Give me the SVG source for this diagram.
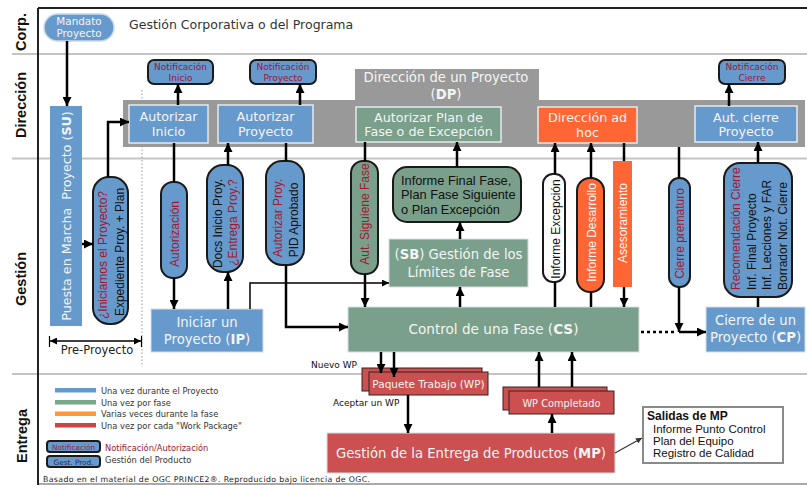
<svg xmlns="http://www.w3.org/2000/svg" width="807" height="485" viewBox="0 0 807 485">
<defs>
  <marker id="ah" markerWidth="9" markerHeight="9" refX="9" refY="4.5" orient="auto" markerUnits="userSpaceOnUse">
    <path d="M0,0 L9,4.5 L0,9 z" fill="#000"/>
  </marker>
  <marker id="ahs" markerWidth="7" markerHeight="7" refX="7" refY="3.5" orient="auto-start-reverse" markerUnits="userSpaceOnUse">
    <path d="M0,0 L7,3.5 L0,7 z" fill="#000"/>
  </marker>
  <marker id="ahx" markerWidth="6" markerHeight="6" refX="6" refY="3" orient="auto" markerUnits="userSpaceOnUse">
    <path d="M0,0 L6,3 L0,6 z" fill="#333"/>
  </marker>
</defs>
<style>
  .lane{stroke:#c4c4c4;stroke-width:2;fill:none}
  .lanelbl{font-family:"Liberation Sans",Arial,sans-serif;font-weight:bold;font-size:14.5px;fill:#111;text-anchor:middle}
  .blue{fill:#6699cc}
  .green{fill:#7a9f8a}
  .orange{fill:#ff6633}
  .red{fill:#cc5050}
  .box{stroke:#e6e9ec;stroke-width:1.5}
  .soft{stroke:#d6dee6;stroke-width:1}
  .pill{stroke:#1a1a1a;stroke-width:2}
  .wp{stroke:#3a2020;stroke-width:1}
  .bt{font-family:"DejaVu Sans",Verdana,sans-serif;font-size:13.2px;fill:#f4f4f4;text-anchor:middle}
  .at{font-size:12.7px}
  .b{font-weight:bold}
  .vt{font-family:"Liberation Sans",Arial,sans-serif;font-size:12px;text-anchor:middle}
  .vs{text-anchor:start}
  .rd{fill:#a01830}
  .bk{fill:#111}
  .wt{fill:#fafafa}
  .nt{font-family:"DejaVu Sans",Verdana,sans-serif;font-size:9px;fill:#9a1838;text-anchor:middle}
  .conn{stroke:#000;stroke-width:2.5;fill:none}
  .thin{stroke:#000;stroke-width:1.5;fill:none}
  .sm{font-family:"DejaVu Sans",Verdana,sans-serif;font-size:9px;fill:#111}
  .lg{font-family:"DejaVu Sans",Verdana,sans-serif;font-size:8.3px;fill:#333}
  .out{font-family:"Liberation Sans",Arial,sans-serif;font-size:11.5px;fill:#111}
</style>

<!-- swimlane frame -->
<g id="lanes">
  <path class="lane" d="M12,54 H807 M12,158.5 H807 M12,374 H807"/>
  <path d="M38,484 H807" stroke="#8c8c8c" stroke-width="1.5"/>
  <path d="M38,8 H807 M38,8 V485" stroke="#222" stroke-width="2" fill="none"/>
  <path d="M142,90 V367" stroke="#9a9a9a" stroke-width="1" stroke-dasharray="1.5,2" fill="none"/>
  <text class="lanelbl" transform="translate(26,32) rotate(-90)">Corp.</text>
  <text class="lanelbl" transform="translate(26,105) rotate(-90)">Dirección</text>
  <text class="lanelbl" transform="translate(26,279) rotate(-90)">Gestión</text>
  <text class="lanelbl" transform="translate(27,436) rotate(-90)">Entrega</text>
</g>

<!-- corporate level -->
<g id="mandato">
  <rect x="44" y="14" width="70" height="27" rx="13.5" class="blue" stroke="#c9d9ea" stroke-width="1.5"/>
  <text class="bt" style="font-size:10.4px" x="79" y="25">Mandato</text>
  <text class="bt" style="font-size:10.4px" x="79" y="37">Proyecto</text>
</g>
<g id="corp-title">
  <text x="129" y="29" font-family="DejaVu Sans, Verdana, sans-serif" font-size="12.5" fill="#333">Gestión Corporativa o del Programa</text>
</g>

<!-- directing a project -->
<g id="dp">
  <path d="M123,100 H355 V69 H539 V100 H805 V147 H123 Z" fill="#999"/>
  <text class="bt" x="446" y="81.5">Dirección de un Proyecto</text>
  <text class="bt" x="446" y="99">(<tspan class="b">DP</tspan>)</text>
</g>
<g id="aut-inicio">
  <rect x="129" y="105" width="79" height="38" class="blue box"/>
  <text class="bt at" x="168.5" y="121">Autorizar</text>
  <text class="bt at" x="168.5" y="135.5">Inicio</text>
</g>
<g id="aut-proyecto">
  <rect x="218" y="105" width="95" height="38" class="blue box"/>
  <text class="bt at" x="265.5" y="121">Autorizar</text>
  <text class="bt at" x="265.5" y="135.5">Proyecto</text>
</g>
<g id="aut-plan">
  <rect x="356" y="107" width="145" height="35" class="green box"/>
  <text class="bt at" x="428.5" y="121.5">Autorizar Plan de</text>
  <text class="bt at" x="428.5" y="136">Fase o de Excepción</text>
</g>
<g id="adhoc">
  <rect x="538" y="107" width="99" height="36" class="orange box"/>
  <text class="bt at" x="587.5" y="122">Dirección ad</text>
  <text class="bt at" x="587.5" y="136.5">hoc</text>
</g>
<g id="aut-cierre">
  <rect x="695" y="106" width="102" height="36" class="blue box"/>
  <text class="bt at" x="746" y="121.5">Aut. cierre</text>
  <text class="bt at" x="746" y="136">Proyecto</text>
</g>
<g id="not-inicio">
  <rect x="148" y="60" width="65" height="24" rx="6" class="blue pill"/>
  <text class="nt" x="180.5" y="70">Notificación</text>
  <text class="nt" x="180.5" y="81">Inicio</text>
</g>
<g id="not-proyecto">
  <rect x="250" y="60" width="66" height="24" rx="6" class="blue pill"/>
  <text class="nt" x="283" y="70">Notificación</text>
  <text class="nt" x="283" y="81">Proyecto</text>
</g>
<g id="not-cierre">
  <rect x="719" y="60" width="66" height="24" rx="6" class="blue pill"/>
  <text class="nt" x="752" y="70">Notificación</text>
  <text class="nt" x="752" y="81">Cierre</text>
</g>

<!-- managing level -->
<g id="su">
  <rect x="50" y="106" width="32" height="220" class="blue"/>
  <text class="bt at" transform="translate(71,216) rotate(-90)">Puesta en Marcha&#160; Proyecto (<tspan class="b">SU</tspan>)</text>
</g>
<g id="iniciamos">
  <rect x="93" y="177" width="35" height="147" rx="16" class="blue pill"/>
  <text class="vt rd" transform="translate(107,255) rotate(-90)">¿Iniciamos el Proyecto?</text>
  <text class="vt bk" transform="translate(124,252) rotate(-90)">Expediente Proy. + Plan</text>
</g>
<g id="pre-proyecto">
  <path class="thin" d="M50,341 H141" marker-start="url(#ahs)" marker-end="url(#ahs)"/>
  <path d="M49.5,336 V347 M141.5,336 V347" stroke="#000" stroke-width="1.2"/>
  <text x="97" y="354" text-anchor="middle" font-family="DejaVu Sans, Verdana, sans-serif" font-size="11.5" fill="#222">Pre-Proyecto</text>
</g>
<g id="autorizacion">
  <rect x="161" y="182" width="26" height="96" rx="12" class="blue pill"/>
  <text class="vt rd" transform="translate(179,234) rotate(-90)">Autorización</text>
</g>
<g id="docs-inicio">
  <rect x="207" y="165" width="36" height="107" rx="16" class="blue pill"/>
  <text class="vt bk" transform="translate(222,223.5) rotate(-90)">Docs Inicio Proy.</text>
  <text class="vt rd" transform="translate(237,222.5) rotate(-90)">¿Entrega Proy.?</text>
</g>
<g id="pid">
  <rect x="266" y="161" width="38" height="104" rx="16" class="blue pill"/>
  <text class="vt rd" transform="translate(282,218) rotate(-90)">Autorizar Proy.</text>
  <text class="vt bk" transform="translate(298,220) rotate(-90)">PID Aprobado</text>
</g>
<g id="aut-siguiente">
  <rect x="351" y="161" width="27" height="113" rx="12" class="green pill"/>
  <text class="vt rd" transform="translate(369,214) rotate(-90)">Aut. Siguiene Fase</text>
</g>
<g id="informe-final">
  <rect x="393" y="167" width="128" height="55" rx="14" class="green pill"/>
  <text x="401" y="184.5" font-family="Liberation Sans, Arial, sans-serif" font-size="12.8" fill="#111">Informe Final Fase,</text>
  <text x="401" y="199" font-family="Liberation Sans, Arial, sans-serif" font-size="12.8" fill="#111">Plan Fase Siguiente</text>
  <text x="401" y="213.5" font-family="Liberation Sans, Arial, sans-serif" font-size="12.8" fill="#111">o Plan Excepción</text>
</g>
<g id="sb">
  <rect x="389" y="239" width="139" height="48" class="green soft"/>
  <text class="bt" x="458.5" y="259">(<tspan class="b">SB</tspan>) Gestión de los</text>
  <text class="bt" x="458.5" y="277">Límites de Fase</text>
</g>
<g id="ip">
  <rect x="151" y="309" width="112" height="43" class="blue soft"/>
  <text class="bt" x="207" y="327">Iniciar un</text>
  <text class="bt" x="207" y="343.5">Proyecto (<tspan class="b">IP</tspan>)</text>
</g>
<g id="cs">
  <rect x="348" y="307" width="291" height="45" class="green soft"/>
  <text class="bt" style="font-size:13.6px" x="493.5" y="334">Control de una Fase (<tspan class="b">CS</tspan>)</text>
</g>
<g id="inf-excepcion">
  <rect x="543" y="174" width="22" height="108" rx="10" fill="#fff" class="pill"/>
  <text class="vt bk" transform="translate(560,229) rotate(-90)">Informe Excepción</text>
</g>
<g id="inf-desarrollo">
  <rect x="577" y="178" width="27" height="114" rx="13" class="orange pill"/>
  <text class="vt wt" transform="translate(596,232.5) rotate(-90)">Informe Desarrollo</text>
</g>
<g id="asesoramiento">
  <rect x="613" y="161" width="19" height="126" class="orange"/>
  <text class="vt wt" transform="translate(627,223) rotate(-90)">Asesoramiento</text>
</g>
<g id="cierre-prematuro">
  <rect x="669" y="178" width="21" height="109" rx="10" class="blue pill"/>
  <text class="vt rd" transform="translate(684,233.5) rotate(-90)">Cierre prematuro</text>
</g>
<g id="recomendacion">
  <rect x="724" y="163" width="68" height="134" rx="16" class="blue pill"/>
  <text class="vt vs rd" transform="translate(740,290) rotate(-90)">Recomendación Cierre</text>
  <text class="vt vs bk" transform="translate(755.5,290) rotate(-90)">Inf. Final Proyecto</text>
  <text class="vt vs bk" transform="translate(771,290) rotate(-90)">Inf. Lecciones y FAR</text>
  <text class="vt vs bk" transform="translate(786.5,290) rotate(-90)">Borrador Not. Cierre</text>
</g>
<g id="cp">
  <rect x="706" y="307" width="99" height="45" class="blue soft"/>
  <text class="bt" x="755.5" y="325">Cierre de un</text>
  <text class="bt" x="755.5" y="342">Proyecto (<tspan class="b">CP</tspan>)</text>
</g>

<!-- delivery level -->
<g id="paquete">
  <rect x="362" y="368" width="120" height="23" class="red wp"/>
  <rect x="369" y="372" width="119" height="23" class="red wp"/>
  <text class="bt" style="font-size:10.5px" x="428.5" y="387.5">Paquete Trabajo (WP)</text>
</g>
<g id="wp-completado">
  <rect x="503" y="387" width="104" height="23" class="red wp"/>
  <rect x="509" y="391" width="105" height="23" class="red wp"/>
  <text class="bt" style="font-size:9.8px" x="561.5" y="406.5">WP Completado</text>
</g>
<g id="mp">
  <rect x="327" y="433" width="288" height="40" class="red soft"/>
  <text class="bt" x="471" y="458">Gestión de la Entrega de Productos (<tspan class="b">MP</tspan>)</text>
</g>
<g id="salidas-mp">
  <rect x="643" y="407" width="140" height="56" fill="#fff" stroke="#8a8a8a" stroke-width="2"/>
  <text x="647" y="420" font-family="Liberation Sans, Arial, sans-serif" font-weight="bold" font-size="12" fill="#111">Salidas de MP</text>
  <text class="out" x="653" y="432.5">Informe Punto Control</text>
  <text class="out" x="653" y="445">Plan del Equipo</text>
  <text class="out" x="653" y="457">Registro de Calidad</text>
</g>
<g id="wp-labels">
  <text class="sm" x="311" y="368">Nuevo WP</text>
  <text class="sm" x="333" y="405.5">Aceptar un WP</text>
</g>

<!-- legend -->
<g id="legend">
  <rect x="55" y="388" width="41" height="4.5" fill="#6699cc"/>
  <rect x="55" y="400" width="41" height="4.5" fill="#77a88a"/>
  <rect x="55" y="411.5" width="41" height="4.5" fill="#ff9933"/>
  <rect x="55" y="423" width="41" height="4.5" fill="#cc4444"/>
  <text class="lg" x="101" y="394">Una vez durante el Proyecto</text>
  <text class="lg" x="101" y="405.5">Una vez por fase</text>
  <text class="lg" x="101" y="417">Varias veces durante la fase</text>
  <text class="lg" x="101" y="428.5">Una vez por cada "Work Package"</text>
  <rect x="47" y="441" width="53" height="11" rx="3" class="blue pill"/>
  <text x="73.5" y="449.5" text-anchor="middle" font-family="DejaVu Sans, Verdana, sans-serif" font-size="7.3" fill="#a01830">Notificación</text>
  <rect x="47" y="456" width="53" height="11" rx="3" class="blue pill"/>
  <text x="73.5" y="464.5" text-anchor="middle" font-family="DejaVu Sans, Verdana, sans-serif" font-size="7.3" fill="#1c2e5c">Gest. Prod.</text>
  <text class="lg" x="105" y="451" style="fill:#a01830">Notificación/Autorización</text>
  <text class="lg" x="105" y="463">Gestión del Producto</text>
</g>
<g id="footer">
  <text x="43" y="482" font-family="DejaVu Sans, Verdana, sans-serif" font-size="7.8" fill="#222" textLength="327">Basado en el material de OGC PRINCE2®. Reproducido bajo licencia de OGC.</text>
</g>

<!-- connectors -->
<g id="connectors">
  <path class="conn" d="M67,41 V106" marker-end="url(#ah)"/>
  <path class="conn" d="M82,244 H93" marker-end="url(#ah)"/>
  <path class="conn" d="M108,177 V122 H129" marker-end="url(#ah)"/>
  <path class="conn" d="M178,105 V84" marker-end="url(#ah)"/>
  <path class="conn" d="M174,143 V182"/>
  <path class="conn" d="M174,278 V309" marker-end="url(#ah)"/>
  <path class="conn" d="M228,309 V272" marker-end="url(#ah)"/>
  <path class="conn" d="M228,165 V143" marker-end="url(#ah)"/>
  <path class="conn" d="M300,105 V84" marker-end="url(#ah)"/>
  <path class="conn" d="M286,143 V161"/>
  <path class="conn" d="M286,265 V327 H348" marker-end="url(#ah)"/>
  <path class="thin" d="M250,309 V283 H389" marker-end="url(#ahs)"/>
  <path class="conn" d="M365,142 V161"/>
  <path class="conn" d="M365,274 V307" marker-end="url(#ah)"/>
  <path class="conn" d="M457,167 V142" marker-end="url(#ah)"/>
  <path class="conn" d="M460,239 V222" marker-end="url(#ah)"/>
  <path class="conn" d="M460,307 V287" marker-end="url(#ah)"/>
  <path class="conn" d="M555,174 V143" marker-end="url(#ah)"/>
  <path class="conn" d="M555,307 V282"/>
  <path class="conn" d="M591,178 V143" marker-end="url(#ah)"/>
  <path class="conn" d="M591,307 V292"/>
  <path class="conn" d="M624,143 V161"/>
  <path class="conn" d="M624,287 V307" marker-end="url(#ah)"/>
  <path class="conn" d="M679,147 V178"/>
  <path class="conn" d="M679,287 V332" marker-end="url(#ah)"/>
  <path class="conn" d="M679,332 H706" marker-end="url(#ah)"/>
  <path class="conn" stroke-dasharray="3,3" d="M641,332 H676"/>
  <path class="conn" d="M758,163 V142" marker-end="url(#ah)"/>
  <path class="conn" d="M758,307 V297"/>
  <path class="conn" d="M729,106 V84" marker-end="url(#ah)"/>
  <path class="conn" d="M381,352 V373" marker-end="url(#ah)"/>
  <path class="conn" d="M394,352 V377" marker-end="url(#ah)"/>
  <path class="conn" d="M408,395 V433" marker-end="url(#ah)"/>
  <path class="conn" d="M539,387 V352" marker-end="url(#ah)"/>
  <path class="conn" d="M572,387 V352" marker-end="url(#ah)"/>
  <path class="conn" d="M552,433 V414" marker-end="url(#ah)"/>
  <path d="M615,453 L642,438" stroke="#333" stroke-width="1.2" fill="none" marker-end="url(#ahx)"/>
</g>
</svg>
